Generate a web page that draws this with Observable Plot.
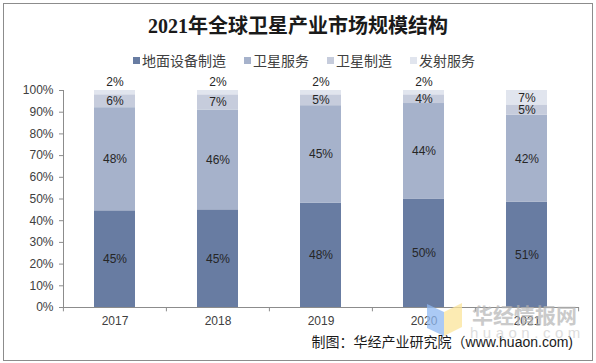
<!DOCTYPE html>
<html><head><meta charset="utf-8">
<script src="https://cdn.jsdelivr.net/npm/d3@7"></script>
<script src="https://cdn.jsdelivr.net/npm/@observablehq/plot@0.6"></script>
<style>
body{margin:0;background:#fff;}
#wrap{position:relative;width:596px;height:363px;overflow:hidden;font-family:"Liberation Sans","Noto Sans CJK SC",sans-serif;background:#fff;}
#border{position:absolute;left:3px;top:3px;width:590px;height:358px;border:1px solid #8c8c8c;box-sizing:border-box;pointer-events:none;}
#title{position:absolute;left:0;top:16px;width:596px;text-align:center;font-family:"Liberation Serif","Noto Sans CJK SC",serif;font-weight:bold;font-size:20px;line-height:21px;color:#1a1a1a;}
#legend{position:absolute;left:133px;top:52px;display:flex;align-items:center;font-family:"Noto Sans CJK SC",sans-serif;font-size:14px;line-height:16px;color:#404040;white-space:nowrap;}
#legend .item{display:flex;align-items:center;margin-right:18px;}
#legend .sw{width:7px;height:7px;margin-right:2px;}
#caption{position:absolute;right:23px;top:334px;font-size:14px;line-height:16px;color:#1a1a1a;font-family:"Liberation Sans","Noto Sans CJK SC",sans-serif;white-space:nowrap;}
#chart{position:absolute;left:0;top:0;}
#wm{position:absolute;left:0;top:0;width:596px;height:363px;pointer-events:none;}
</style>
</head><body>
<div id="wrap">
  <div id="chart"></div>
  <div id="title"></div>
  <div id="legend"></div>
  <div id="caption"></div>
  <svg id="wm" width="596" height="363">
    <polygon points="427,304 444,312 444,336 427,328" fill="#8fb8f2" opacity="0.75"/>
    <polygon points="444,312 462,303 462,327 444,336" fill="#fbe49a" opacity="0.75"/>
    <text x="472" y="323" font-family="Noto Sans CJK SC" font-weight="bold" font-size="21" fill="#b4b4b4" opacity="0.7">华经情报网</text>
    <text x="470" y="338" font-family="Liberation Sans" font-size="15" letter-spacing="4.5" fill="#cfcfcf" opacity="0.7">huaon.com</text>
  </svg>
  <div id="border"></div>
</div>
<script>
const titleText = "2021年全球卫星产业市场规模结构";
const captionText = "制图：华经产业研究院（www.huaon.com)";
const years = ["2017", "2018", "2019", "2020", "2021"];
const seriesNames = ["地面设备制造", "卫星服务", "卫星制造", "发射服务"];
const groundEquipment = [45, 45, 48, 50, 51];
const satelliteServices = [48, 46, 45, 44, 42];
const satelliteManufacturing = [6, 7, 5, 4, 5];
const launchServices = [2, 2, 2, 2, 7];
const colors = ["#687ca2", "#a6b2cb", "#c6ccdc", "#e1e5ee"];
const yTicks = [0, 0.1, 0.2, 0.3, 0.4, 0.5, 0.6, 0.7, 0.8, 0.9, 1];

const seriesValues = [groundEquipment, satelliteServices, satelliteManufacturing, launchServices];
const data = seriesNames.flatMap((s, i) => seriesValues[i].map((v, j) => ({year: years[j], series: s, value: v})));
const isAbove = d => d.series === seriesNames[3] && d.value < 5;

document.getElementById("title").textContent = titleText;
document.getElementById("caption").textContent = captionText;
const legend = document.getElementById("legend");
seriesNames.forEach((s, i) => {
  const it = document.createElement("div"); it.className = "item";
  const sw = document.createElement("div"); sw.className = "sw"; sw.style.background = colors[i];
  const tx = document.createElement("span"); tx.textContent = s;
  it.appendChild(sw); it.appendChild(tx); legend.appendChild(it);
});

const W = 596, H = 363, mL = 63, mR = 17;
const step = (W - mL - mR) / years.length;

const chart = Plot.plot({
  width: W, height: H,
  marginLeft: mL, marginRight: mR, marginTop: 90, marginBottom: 56,
  style: {fontFamily: "Liberation Sans, Arial, sans-serif", fontSize: "12px", background: "transparent", overflow: "visible"},
  x: {domain: years, paddingInner: 0.6, paddingOuter: 0.3, label: null},
  y: {domain: [0, 1], label: null},
  color: {domain: seriesNames, range: colors},
  marks: [
    Plot.barY(data, Plot.stackY({x: "year", y: "value", z: "series", fill: "series", offset: "normalize"})),
    Plot.text(data, Plot.stackY({x: "year", y: "value", z: "series", offset: "normalize",
      text: d => isAbove(d) ? "" : d.value + "%", fill: "#262626", fontSize: 12})),
    Plot.text(data, Plot.stackY2({x: "year", y: "value", z: "series", offset: "normalize",
      text: d => isAbove(d) ? d.value + "%" : "", fill: "#262626", fontSize: 12, dy: -8})),
    Plot.axisY({ticks: yTicks, tickFormat: d3.format(".0%"), tickSize: 4, tickPadding: 6,
      stroke: "#8c8c8c", fill: "#404040", label: null, fontSize: 12}),
    Plot.axisX({tickSize: 0, tickPadding: 9, stroke: "#8c8c8c", fill: "#404040", label: null, fontSize: 12}),
    Plot.ruleY([0], {stroke: "#8c8c8c"}),
    Plot.frame({anchor: "left", stroke: "#8c8c8c"}),
    Plot.ruleX(years, {x: d => d, y1: 0, y2: -0.02, dx: -step / 2, stroke: "#8c8c8c"}),
    Plot.ruleX(years.slice(-1), {x: d => d, y1: 0, y2: -0.02, dx: step / 2, stroke: "#8c8c8c"})
  ]
});
document.getElementById("chart").appendChild(chart);
</script>
</body></html>
